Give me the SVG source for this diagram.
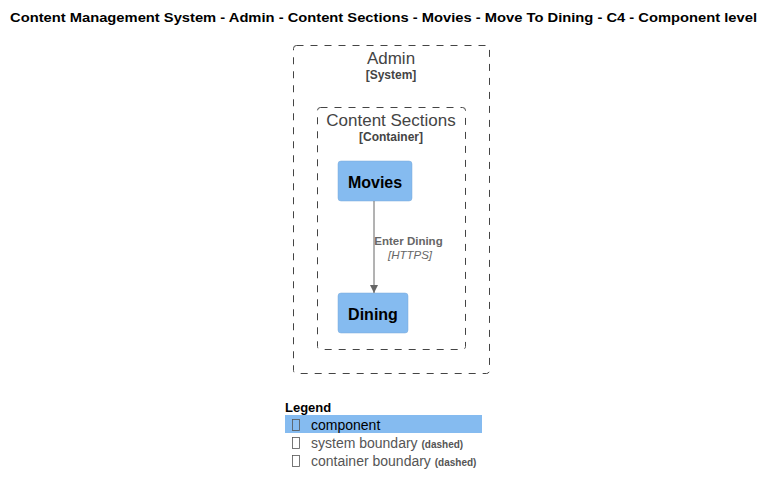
<svg xmlns="http://www.w3.org/2000/svg" width="774" height="494" viewBox="0 0 774 494">
<style>
text{font-family:"Liberation Sans",Arial,sans-serif}
.title{font-size:13px;font-weight:bold;fill:#000}
.bnd{fill:none;stroke:#444;stroke-width:1;stroke-dasharray:7,7}
.bname{font-size:17px;fill:#444;text-anchor:middle}
.btype{font-size:12px;font-weight:bold;fill:#444;text-anchor:middle}
.comp{fill:#85BBF0;stroke:#78A8D8;stroke-width:0.5}
.cname{font-size:16px;font-weight:bold;fill:#000;text-anchor:middle}
.edge{stroke:#666;stroke-width:1;fill:none}
.elab{font-size:11.5px;font-weight:bold;fill:#666;text-anchor:middle}
.etech{font-size:11.5px;font-style:italic;fill:#666;text-anchor:middle}
.leg{font-size:14px;fill:#000}
.legg{font-size:14px;fill:#555}
.small{font-size:10px;font-weight:bold}
.box{fill:none;stroke:#555;stroke-width:0.8}
</style>
<defs>
<marker id="arr" viewBox="0 0 10 10" refX="10" refY="5" markerWidth="8" markerHeight="8" orient="auto" markerUnits="userSpaceOnUse">
<path d="M0,0 L10,5 L0,10 Z" fill="#666"/>
</marker>
</defs>
<text class="title" x="10" y="22" textLength="747" lengthAdjust="spacingAndGlyphs">Content Management System - Admin - Content Sections - Movies - Move To Dining - C4 - Component level</text>
<g id="admin">
<rect class="bnd" x="293.5" y="45.5" width="196" height="328" rx="3"/>
<text class="bname" x="391" y="64">Admin</text>
<text class="btype" x="391" y="79">[System]</text>
</g>
<g id="content-sections">
<rect class="bnd" x="317.5" y="107.5" width="148" height="242" rx="3"/>
<text class="bname" x="391" y="126">Content Sections</text>
<text class="btype" x="391" y="141">[Container]</text>
</g>
<g id="movies">
<rect class="comp" x="338" y="161" width="74" height="40" rx="3"/>
<text class="cname" x="375" y="188">Movies</text>
</g>
<g id="dining">
<rect class="comp" x="338" y="293" width="70" height="40" rx="3"/>
<text class="cname" x="373" y="320">Dining</text>
</g>
<g id="connectors">
<line class="edge" x1="374" y1="201" x2="374" y2="293" marker-end="url(#arr)"/>
<text class="elab" x="408.5" y="245">Enter Dining</text>
<text class="etech" x="410" y="259">[HTTPS]</text>
</g>
<g id="legend">
<text class="title" x="285" y="412" text-anchor="start">Legend</text>
<rect x="285" y="415" width="197" height="18" fill="#85BBF0"/>
<rect class="box" x="292.5" y="419.5" width="7" height="11" stroke="#7AA8D8"/>
<text class="leg" x="311" y="430">component</text>
<rect class="box" x="292.5" y="437.5" width="7" height="11"/>
<text class="legg" x="311" y="448">system boundary <tspan class="small">(dashed)</tspan></text>
<rect class="box" x="292.5" y="455.5" width="7" height="11"/>
<text class="legg" x="311" y="466">container boundary <tspan class="small">(dashed)</tspan></text>
</g>
</svg>
